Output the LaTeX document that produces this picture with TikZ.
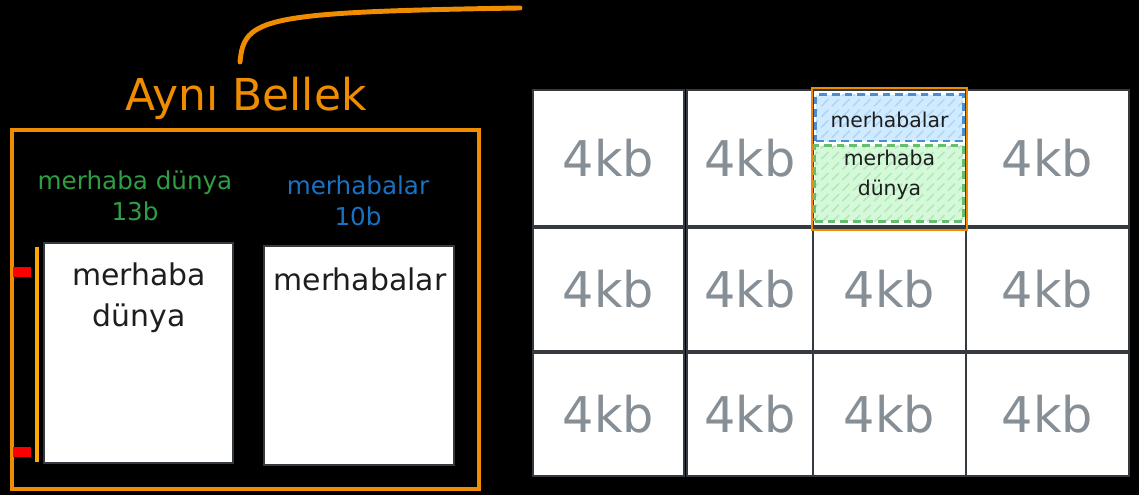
\documentclass[tikz,border=0pt]{standalone}
\usepackage{fontspec}
\setmainfont{DejaVu Sans}
\usetikzlibrary{patterns}
\definecolor{stroke}{HTML}{343A40}
\definecolor{ink}{HTML}{1E1E1E}
\definecolor{kbgray}{HTML}{868E96}
\definecolor{exorange}{HTML}{F08C00}
\definecolor{exyellow}{HTML}{FFA800}
\definecolor{exred}{HTML}{FA0000}
\definecolor{exgreen}{HTML}{2F9E44}
\definecolor{exblue}{HTML}{1971C2}
\definecolor{dashgreen}{HTML}{64BE6E}
\definecolor{dashblue}{HTML}{4C8CD2}
\definecolor{fillgreen}{HTML}{D3F9D8}
\definecolor{fillblue}{HTML}{D0EBFF}
\definecolor{hatchgreen}{HTML}{B4E6BA}
\definecolor{hatchblue}{HTML}{B0D4F5}
\begin{document}
\begin{tikzpicture}[x=0.01cm,y=-0.01cm,
    cell/.style={draw=stroke,fill=white,line width=0.6pt,inner sep=0pt,
      text=kbgray,font=\fontsize{14}{16}\selectfont},
    membox/.style={draw=stroke,fill=white,line width=0.6pt,inner sep=0pt},
    memtext/.style={text=ink,align=center,font=\fontsize{8.5}{11.7}\selectfont},
    tag/.style={align=center,font=\fontsize{7}{9}\selectfont},
    chunk/.style={line width=0.85pt,dash pattern=on 2.2pt off 1.4pt,inner sep=0pt,
      text=ink,align=center,font=\fontsize{5.8}{8.5}\selectfont}]
  \fill[black] (0,0) rectangle (1139,495);
  \useasboundingbox (0,0) rectangle (1139,495);

  % left side
  \coordinate (arcstart) at (240,62);
  \coordinate (arcend) at (520,8);
  \draw[exorange,line width=1.4pt,line cap=round] (arcstart) .. controls (244,18) and (262,12) .. (arcend);
  \node[text=exorange,font=\fontsize{12.5}{15}\selectfont] (title) at (246,98) {Aynı Bellek};
  \draw[exorange,line width=0.9pt] (12,130) rectangle (479,489);
  \draw[exyellow,line width=0.9pt] (37,247) -- (37,462);
  \fill[exred] (13,267) rectangle (31,277);
  \fill[exred] (13,447) rectangle (31,457);
  \node[tag,text=exgreen] (glabel) at (135,196) {merhaba dünya\\13b};
  \node[tag,text=exblue] (blabel) at (358,201) {merhabalar\\10b};
  \node[membox,minimum width=1.89cm,minimum height=2.20cm] (b1) at (138.5,353) {};
  \node[membox,minimum width=1.90cm,minimum height=2.19cm] (b2) at (359,355.5) {};
  \node[memtext] (t1) at (139,298) {merhaba\\dünya};
  \node[memtext] (t2) at (360,279) {merhabalar};

  % right side
  \draw[stroke,line width=1.6pt] (531,87) rectangle (1131,479);
  \node[cell,minimum width=1.51cm,minimum height=1.36cm] (p11) at (608.5,158) {4kb};
  \node[cell,minimum width=1.26cm,minimum height=1.36cm] (p12) at (750,158) {4kb};
  \node[cell,minimum width=1.53cm,minimum height=1.36cm] (p13) at (889.5,158) {};
  \node[cell,minimum width=1.63cm,minimum height=1.36cm] (p14) at (1047.5,158) {4kb};
  \node[cell,minimum width=1.51cm,minimum height=1.23cm] (p21) at (608.5,289.5) {4kb};
  \node[cell,minimum width=1.26cm,minimum height=1.23cm] (p22) at (750,289.5) {4kb};
  \node[cell,minimum width=1.53cm,minimum height=1.23cm] (p23) at (889.5,289.5) {4kb};
  \node[cell,minimum width=1.63cm,minimum height=1.23cm] (p24) at (1047.5,289.5) {4kb};
  \node[cell,minimum width=1.51cm,minimum height=1.23cm] (p31) at (608.5,414.5) {4kb};
  \node[cell,minimum width=1.26cm,minimum height=1.23cm] (p32) at (750,414.5) {4kb};
  \node[cell,minimum width=1.53cm,minimum height=1.23cm] (p33) at (889.5,414.5) {4kb};
  \node[cell,minimum width=1.63cm,minimum height=1.23cm] (p34) at (1047.5,414.5) {4kb};

  % shared page
  \node[draw=exorange,line width=0.7pt,minimum width=1.55cm,minimum height=1.42cm] (hl) at (889.5,159) {};
  \node[chunk,draw=dashblue,preaction={fill=fillblue},pattern=north east lines,pattern color=hatchblue,
    minimum width=1.47cm,minimum height=0.46cm] (mblue) at (889.5,118) {};
  \node[chunk,draw=dashgreen,preaction={fill=fillgreen},pattern=north east lines,pattern color=hatchgreen,
    minimum width=1.48cm,minimum height=0.75cm] (mgreen) at (889,183.5) {};
  \node[chunk] (tblue) at (889.5,120) {merhabalar};
  \node[chunk] (tgreen) at (889.5,175) {merhaba\\dünya};
\end{tikzpicture}
\end{document}
